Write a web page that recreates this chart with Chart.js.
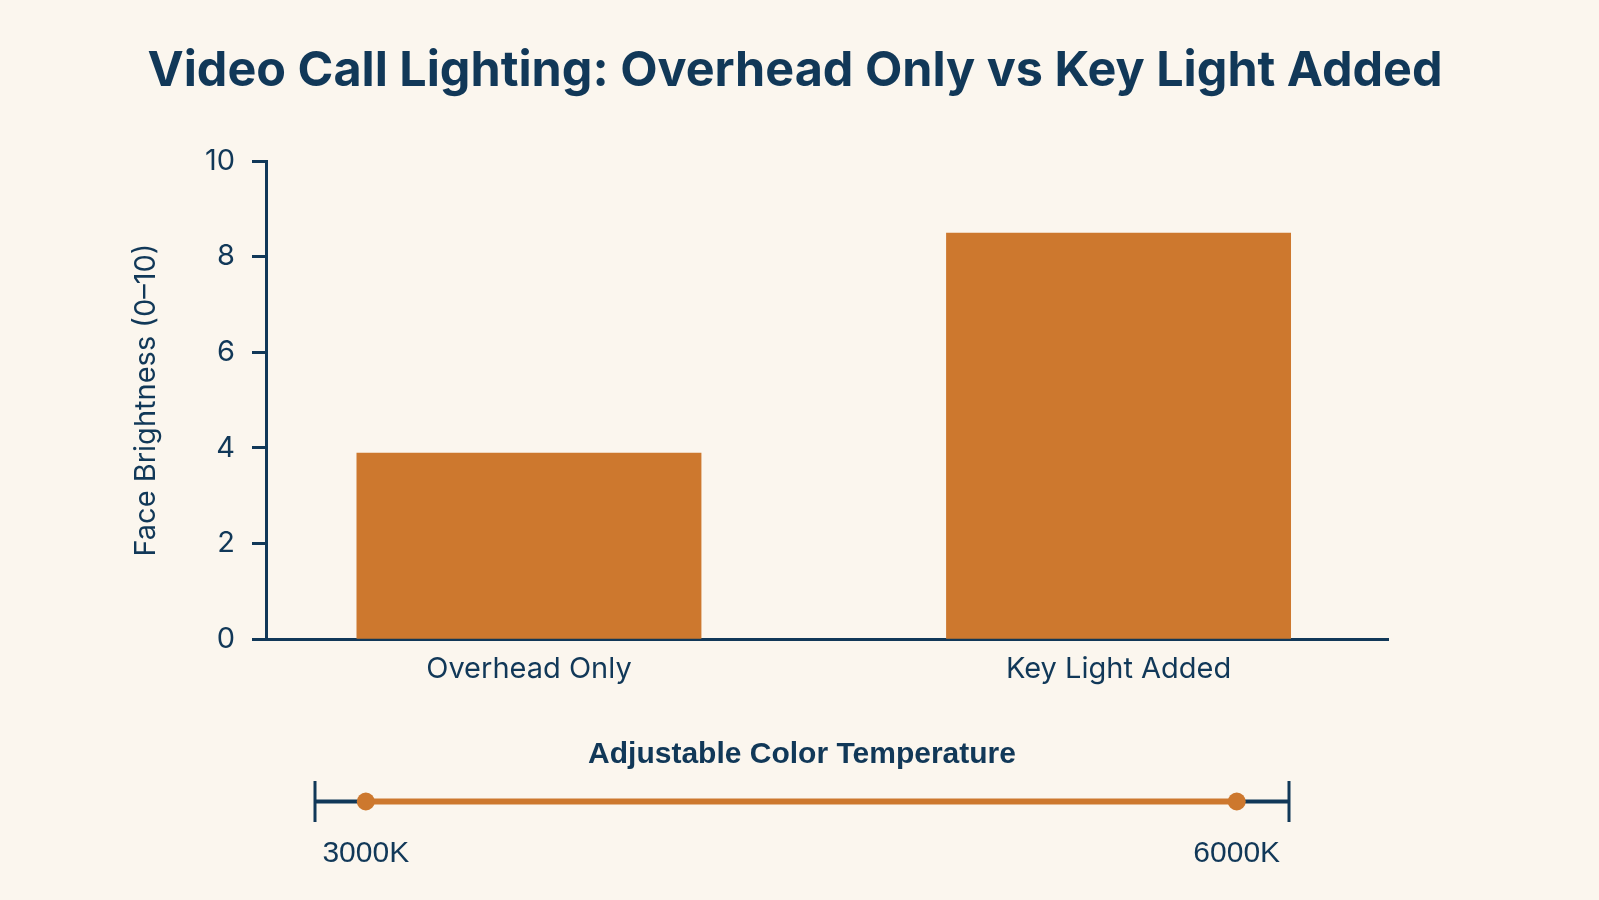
<!DOCTYPE html>
<html>
<head>
<meta charset="utf-8">
<script src="https://cdn.jsdelivr.net/npm/chart.js@4.4.0/dist/chart.umd.min.js"></script>
<style>
  html, body { margin: 0; padding: 0; background: #fbf6ee; }
  #title {
    position: absolute; left: 0; top: 39px; width: 1590px;
    text-align: center; line-height: 60px;
    font-family: Inter, "Noto Sans", sans-serif; font-weight: bold; font-size: 48.5px;
    color: #113858;
  }
  #main-wrap { position: absolute; left: 0; top: 0; width: 1599px; height: 700px; }
  #temp-wrap { position: absolute; left: 0; top: 700px; width: 1599px; height: 200px; }
</style>
</head>
<body>
<div id="main-wrap"><canvas id="brightness-chart"></canvas></div>
<div id="temp-wrap"><canvas id="temp-chart"></canvas></div>
<div id="title">Video Call Lighting: Overhead Only vs Key Light Added</div>
<script>
const categories = ['Overhead Only', 'Key Light Added'];
const brightness = [3.9, 8.5];
const yTicks = [0, 2, 4, 6, 8, 10];

const tempRange = [2825, 6180];
const tempPresets = [3000, 6000];

const navy = '#113858';
const orange = '#cd782e';

Chart.defaults.font.family = 'Inter, "Noto Sans", sans-serif';
Chart.defaults.color = navy;

// bars sit at positions 1, 2 on a linear axis so the spacing can match the original
const barPoints = categories.map((c, i) => ({ x: i + 1, y: brightness[i] }));

const ctx1 = document.getElementById('brightness-chart');
new Chart(ctx1, {
  type: 'bar',
  data: {
    datasets: [{
      label: 'Face Brightness',
      data: barPoints,
      backgroundColor: orange,
      borderWidth: 0,
      barPercentage: 0.585,
      categoryPercentage: 1.0,
    }]
  },
  options: {
    responsive: true,
    maintainAspectRatio: false,
    animation: false,
    layout: {
      padding: { left: 120, right: 211, top: 161, bottom: 0 }
    },
    plugins: {
      legend: { display: false },
      tooltip: { enabled: false }
    },
    scales: {
      x: {
        type: 'linear',
        offset: false,
        min: 0.554,
        max: 2.457,
        afterBuildTicks: (axis) => {
          axis.ticks = categories.map((c, i) => ({ value: i + 1 }));
        },
        grid: { display: false, drawTicks: false, offset: false },
        border: { display: true, color: navy, width: 3 },
        ticks: {
          color: navy,
          font: { size: 29 },
          padding: 13,
          maxRotation: 0,
          callback: (v) => categories[v - 1]
        }
      },
      y: {
        min: 0,
        max: 10,
        afterBuildTicks: (axis) => {
          axis.ticks = yTicks.map(v => ({ value: v }));
        },
        afterFit: (axis) => {
          axis.width = 146;
        },
        grid: {
          drawOnChartArea: false,
          drawTicks: true,
          tickLength: 14,
          tickColor: navy,
          tickWidth: 3
        },
        border: { display: true, color: navy, width: 3 },
        ticks: {
          color: navy,
          font: { size: 29 },
          padding: 17
        },
        title: {
          display: true,
          text: 'Face Brightness (0–10)',
          color: navy,
          font: { size: 29 },
          padding: { top: 9, bottom: 0 }
        }
      }
    }
  }
});

const ctx2 = document.getElementById('temp-chart');
new Chart(ctx2, {
  type: 'scatter',
  data: {
    datasets: [
      {
        label: 'Range',
        data: tempRange.map(v => ({ x: v, y: 0 })),
        showLine: true,
        clip: false,
        borderColor: navy,
        borderWidth: 4,
        pointStyle: 'line',
        rotation: 90,
        pointRadius: 20.5,
        pointBorderWidth: 3,
        pointBorderColor: navy,
        order: 2
      },
      {
        label: 'Presets',
        data: tempPresets.map(v => ({ x: v, y: 0 })),
        showLine: true,
        clip: false,
        borderColor: orange,
        borderWidth: 6,
        pointStyle: 'circle',
        pointRadius: 9,
        pointBackgroundColor: orange,
        pointBorderWidth: 0,
        order: 1
      }
    ]
  },
  options: {
    responsive: true,
    maintainAspectRatio: false,
    animation: false,
    layout: {
      padding: { left: 315, right: 310, top: 0, bottom: 14 }
    },
    plugins: {
      legend: { display: false },
      tooltip: { enabled: false },
      title: {
        display: true,
        text: 'Adjustable Color Temperature',
        color: navy,
        font: { family: '"Liberation Sans", Arial, sans-serif', size: 30, weight: 'bold' },
        padding: { top: 37, bottom: 8 }
      }
    },
    scales: {
      x: {
        type: 'linear',
        min: tempRange[0],
        max: tempRange[1],
        afterBuildTicks: (axis) => {
          axis.ticks = tempPresets.map(v => ({ value: v }));
        },
        grid: { display: false, drawTicks: false },
        border: { display: false },
        ticks: {
          color: navy,
          font: { family: '"Liberation Sans", Arial, sans-serif', size: 30 },
          padding: 14,
          maxRotation: 0,
          callback: (v) => v + 'K'
        }
      },
      y: {
        display: false,
        min: -1,
        max: 1
      }
    }
  }
});
</script>
</body>
</html>
